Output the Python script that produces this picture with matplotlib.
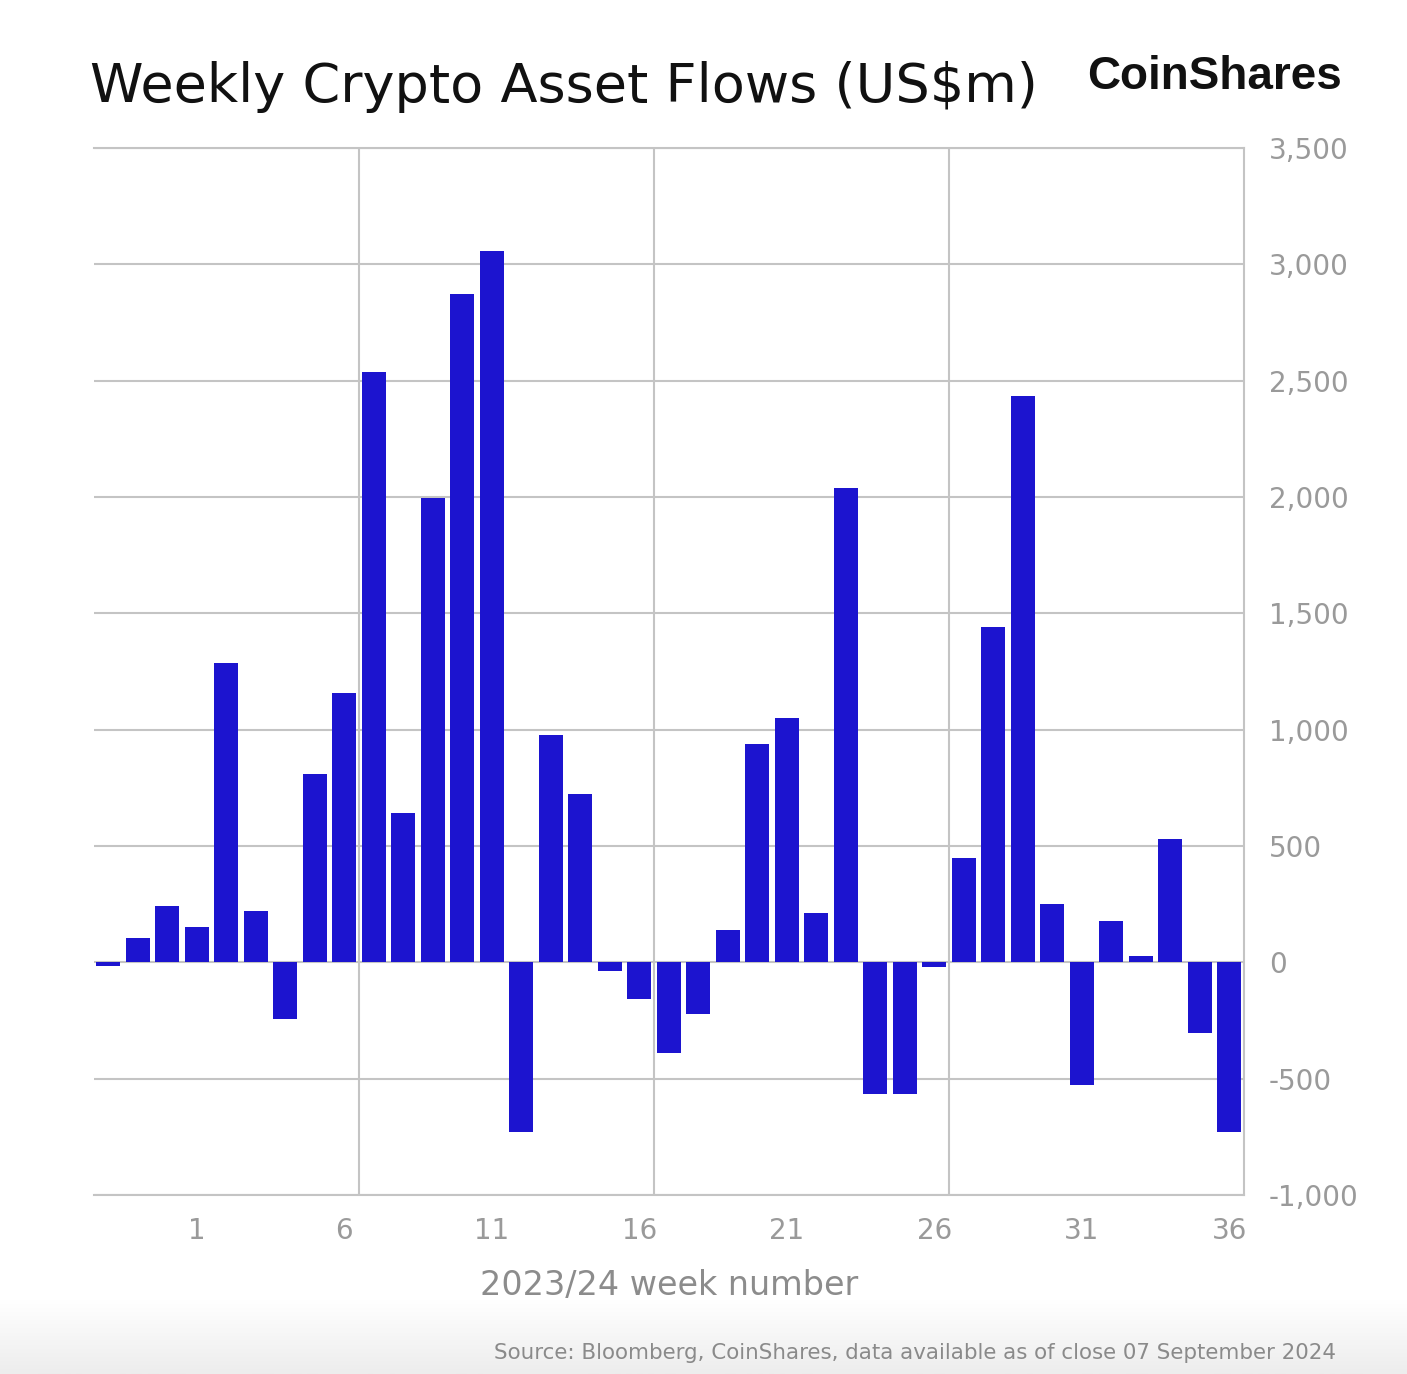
"""
Weekly crypto asset flows (US$m), CoinShares style bar chart.
"""
import matplotlib
matplotlib.use("Agg")
import matplotlib.pyplot as plt
from matplotlib.colors import LinearSegmentedColormap
import numpy as np

BAR, INK, MUTED, GRID = "#1c14cf", "#111111", "#9a9a9a", "#c4c4c4"
LABEL, SOURCE = "#8c8c8c", "#8a8a8a"

# weeks 50-52 of 2023, then weeks 1-36 of 2024
weeks = [50, 51, 52] + list(range(1, 37))
flows = [-15, 105, 240, 150, 1287, 221, -245, 808, 1158, 2538,
         642, 1995, 2872, 3057, -728, 977, 722, -36, -158, -390,
         -222, 140, 937, 1052, 212, 2038, -567, -565, -21, 450,
         1440, 2434, 252, -529, 179, 28, 531, -304, -728]
labelled = [1, 6, 11, 16, 21, 26, 31, 36]
y_ticks = [-1000, -500, 0, 500, 1000, 1500, 2000, 2500, 3000, 3500]

W, H = 1407, 1374
fig = plt.figure(figsize=(W / 100, H / 100), dpi=100)
fig.patch.set_facecolor("white")

# light grey fade at the very bottom of the image
bg = fig.add_axes([0, 0, 1, 75 / H], zorder=-1)
fade = LinearSegmentedColormap.from_list("fade", ["#ffffff", "#ededed"])
bg.imshow(np.linspace(0, 1, 64).reshape(-1, 1), cmap=fade, aspect="auto")
bg.axis("off")

ax = fig.add_axes([93.5 / W, 1 - 1195 / H, (1244 - 93.5) / W, (1195 - 148) / H])
x = np.arange(len(weeks))
ax.bar(x, flows, width=0.83, color=BAR, zorder=3)

ax.set_xlim(-0.5, len(weeks) - 0.5)
ax.set_ylim(y_ticks[0], y_ticks[-1])
ax.set_yticks(y_ticks)
ax.yaxis.tick_right()
ax.yaxis.set_major_formatter(lambda v, p: f"{v:,.0f}")

ax.set_xticks([weeks.index(w) for w in labelled])
ax.set_xticklabels([str(w) for w in labelled])
# vertical guides every ten weeks, between bars
ax.set_xticks([8.5, 18.5, 28.5], minor=True)
ax.xaxis.grid(True, which="minor", color=GRID, linewidth=1.5, zorder=0)
ax.yaxis.grid(True, color=GRID, linewidth=1.5, zorder=0)
ax.set_axisbelow(True)

ax.spines["left"].set_visible(False)
for side in ("top", "bottom", "right"):
    ax.spines[side].set_color(GRID)
    ax.spines[side].set_linewidth(1.5)

ax.tick_params(axis="both", which="both", length=0, labelsize=20, labelcolor=MUTED)
ax.tick_params(axis="y", pad=18)
ax.tick_params(axis="x", pad=16)

fig.text(668.75 / W, 1 - 1295 / H, "2023/24 week number", fontsize=24,
         color=LABEL, ha="center", va="baseline")

fig.text(90 / W, 1 - 102 / H, "Weekly Crypto Asset Flows (US$m)", fontsize=39,
         color=INK, ha="left", va="baseline")
fig.text(1342 / W, 1 - 89 / H, "CoinShares", fontsize=33, fontweight="bold",
         family="Liberation Sans", color=INK, ha="right", va="baseline")

fig.text(1336 / W, 1 - 1359 / H,
         "Source: Bloomberg, CoinShares, data available as of close 07 September 2024",
         fontsize=15.4, color=SOURCE, ha="right", va="baseline")

fig.savefig("out.png", dpi=100)
plt.close(fig)
